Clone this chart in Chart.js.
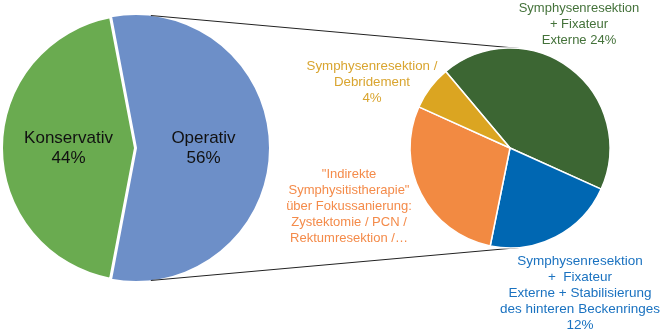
<!DOCTYPE html>
<html>
<head>
<meta charset="utf-8">
<script src="https://cdn.jsdelivr.net/npm/chart.js@4.4.1/dist/chart.umd.min.js"></script>
<style>
  html, body { margin: 0; padding: 0; background: #fff; }
  #wrap { position: relative; width: 661px; height: 334px; }
  #wrap canvas { position: absolute; left: 0; top: 0; }
</style>
</head>
<body>
<div id="wrap">
  <canvas id="main_pie" width="661" height="334"></canvas>
  <canvas id="sub_pie" width="661" height="334"></canvas>
</div>
<script>
// main pie
var mainLabels = ["Operativ", "Konservativ"];
var mainValues = [56, 44];
var mainColors = ["#6D8FC8", "#6AAB50"];

// breakdown of "Operativ"
var subLabels = [
    "Symphysenresektion + Fixateur Externe",
    "Symphysenresektion + Fixateur Externe + Stabilisierung des hinteren Beckenringes",
    "\"Indirekte Symphysitistherapie\" über Fokussanierung",
    "Symphysenresektion / Debridement"
];
var subValues = [24, 12, 16, 4];
var subColors = ["#3C6633", "#0067B2", "#F28A42", "#DBA521"];
var subTextColors = ["#44723A", "#1A72C0", "#F48B4A", "#D9A530"];
var subText = [
    ["Symphysenresektion", "+ Fixateur", "Externe " + subValues[0] + "%"],
    ["Symphysenresektion", "+  Fixateur", "Externe + Stabilisierung", "des hinteren Beckenringes", subValues[1] + "%"],
    ["\"Indirekte", "Symphysitistherapie\"", "über Fokussanierung:", "Zystektomie / PCN /", "Rektumresektion /…"],
    ["Symphysenresektion /", "Debridement", subValues[3] + "%"]
];
// label block centres, relative to the small pie centre
var subTextPos = [[69, -124], [70, 145], [-161, 58], [-138, -66]];
var subTextSize = [13, 13.5, 13, 13.3];

var FONT = "Arial, 'Liberation Sans', sans-serif";
var mainTotal = mainValues.reduce(function (a, b) { return a + b; }, 0);

var mainLabelPlugin = {
    id: "mainLabelPlugin",
    afterDatasetsDraw: function (chart) {
        var ctx = chart.ctx;
        var meta = chart.getDatasetMeta(0);
        ctx.save();
        ctx.fillStyle = "#111";
        ctx.font = "17px " + FONT;
        ctx.textAlign = "center";
        ctx.textBaseline = "middle";
        meta.data.forEach(function (arc, i) {
            var p = arc.getCenterPoint();
            ctx.fillText(mainLabels[i], p.x, p.y - 10);
            ctx.fillText(mainValues[i] + "%", p.x, p.y + 10);
        });
        ctx.restore();
    }
};

var mainChart = new Chart(document.getElementById("main_pie"), {
    type: "pie",
    data: {
        labels: mainLabels,
        datasets: [{
            data: mainValues,
            backgroundColor: mainColors,
            borderColor: "#fff",
            borderWidth: 2,
            offset: [4, 0]
        }]
    },
    options: {
        responsive: false,
        animation: false,
        events: [],
        rotation: 90 - mainValues[0] / mainTotal * 180,
        radius: 133,
        layout: { padding: { left: 0, right: 391, top: 0, bottom: 38 } },
        plugins: { legend: { display: false }, tooltip: { enabled: false } }
    },
    plugins: [mainLabelPlugin]
});

var subPlugin = {
    id: "subPlugin",
    beforeDatasetsDraw: function (chart) {
        // connector lines: outer tangents between the exploded slice and the small pie
        var a = mainChart.getDatasetMeta(0).data[0];
        var mid = (a.startAngle + a.endAngle) / 2;
        var off = a.options.offset || 0;
        var ax = a.x + Math.cos(mid) * off, ay = a.y + Math.sin(mid) * off, ar = a.outerRadius;
        var b = chart.getDatasetMeta(0).data[0];
        var bx = b.x, by = b.y, br = b.outerRadius;
        var s = (ar - br) / (bx - ax);
        var c = Math.sqrt(1 - s * s);
        var ctx = chart.ctx;
        ctx.save();
        ctx.strokeStyle = "#222";
        ctx.lineWidth = 1;
        ctx.beginPath();
        ctx.moveTo(ax + ar * s, ay - ar * c);
        ctx.lineTo(bx + br * s, by - br * c);
        ctx.moveTo(ax + ar * s, ay + ar * c);
        ctx.lineTo(bx + br * s, by + br * c);
        ctx.stroke();
        ctx.restore();
    },
    afterDatasetsDraw: function (chart) {
        var b = chart.getDatasetMeta(0).data[0];
        var ctx = chart.ctx;
        ctx.save();
        ctx.textAlign = "center";
        ctx.textBaseline = "middle";
        subText.forEach(function (lines, i) {
            ctx.font = subTextSize[i] + "px " + FONT;
            ctx.fillStyle = subTextColors[i];
            var x = b.x + subTextPos[i][0];
            var y0 = b.y + subTextPos[i][1] - (lines.length - 1) * 8;
            lines.forEach(function (t, j) {
                ctx.fillText(t, x, y0 + j * 16);
            });
        });
        ctx.restore();
    }
};

var subChart = new Chart(document.getElementById("sub_pie"), {
    type: "pie",
    data: {
        labels: subLabels,
        datasets: [{
            data: subValues,
            backgroundColor: subColors,
            borderColor: "#fff",
            borderWidth: 1.5
        }]
    },
    options: {
        responsive: false,
        animation: false,
        events: [],
        rotation: -40,
        radius: 100,
        layout: { padding: { left: 359, right: 0, top: 0, bottom: 38 } },
        plugins: { legend: { display: false }, tooltip: { enabled: false } }
    },
    plugins: [subPlugin]
});
</script>
</body>
</html>
